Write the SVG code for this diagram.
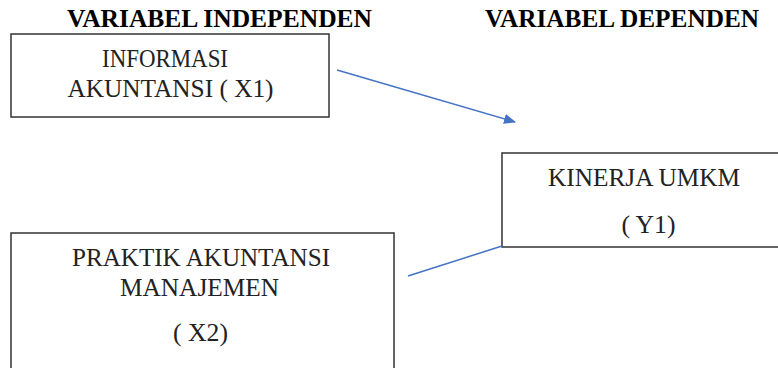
<svg xmlns="http://www.w3.org/2000/svg" width="778" height="368" viewBox="0 0 778 368">
<style>
.box{fill:#fff;stroke:#333;stroke-width:1.5}
.t{font-family:"Liberation Serif","Times New Roman",serif;font-size:25px;fill:#222;text-anchor:middle}
.h{font-family:"Liberation Serif","Times New Roman",serif;font-size:25px;font-weight:bold;fill:#000;text-anchor:middle}
.c{stroke:#4472C4;stroke-width:1.5;fill:none}
</style>
<defs>
<marker id="ah" viewBox="0 0 12 10" refX="11" refY="5" markerWidth="12" markerHeight="10" markerUnits="userSpaceOnUse" orient="auto">
<path d="M0,0 L12,5 L0,10 z" fill="#4472C4"/>
</marker>
</defs>
<rect width="778" height="368" fill="#fff"/>
<text class="h" x="219.5" y="27" textLength="305" lengthAdjust="spacingAndGlyphs">VARIABEL INDEPENDEN</text>
<text class="h" x="622" y="27" textLength="274" lengthAdjust="spacingAndGlyphs">VARIABEL DEPENDEN</text>
<g id="x1">
<rect class="box" x="11" y="34" width="318" height="83"/>
<text class="t" x="165" y="67" textLength="126" lengthAdjust="spacingAndGlyphs">INFORMASI</text>
<text class="t" x="170.5" y="97" textLength="206" lengthAdjust="spacingAndGlyphs">AKUNTANSI ( X1)</text>
</g>
<g id="y1">
<rect class="box" x="502" y="153" width="290" height="94"/>
<text class="t" x="644" y="186" textLength="192" lengthAdjust="spacingAndGlyphs">KINERJA UMKM</text>
<text class="t" x="648.5" y="233" textLength="54" lengthAdjust="spacingAndGlyphs">( Y1)</text>
</g>
<g id="x2">
<rect class="box" x="11" y="233" width="383" height="145"/>
<text class="t" x="201" y="266" textLength="258" lengthAdjust="spacingAndGlyphs">PRAKTIK AKUNTANSI</text>
<text class="t" x="199.5" y="296" textLength="159" lengthAdjust="spacingAndGlyphs">MANAJEMEN</text>
<text class="t" x="200.5" y="341" textLength="55" lengthAdjust="spacingAndGlyphs">( X2)</text>
</g>
<g id="connectors">
<line class="c" x1="337" y1="70" x2="515" y2="122" marker-end="url(#ah)"/>
<line class="c" x1="408" y1="276" x2="502" y2="246"/>
</g>
</svg>
